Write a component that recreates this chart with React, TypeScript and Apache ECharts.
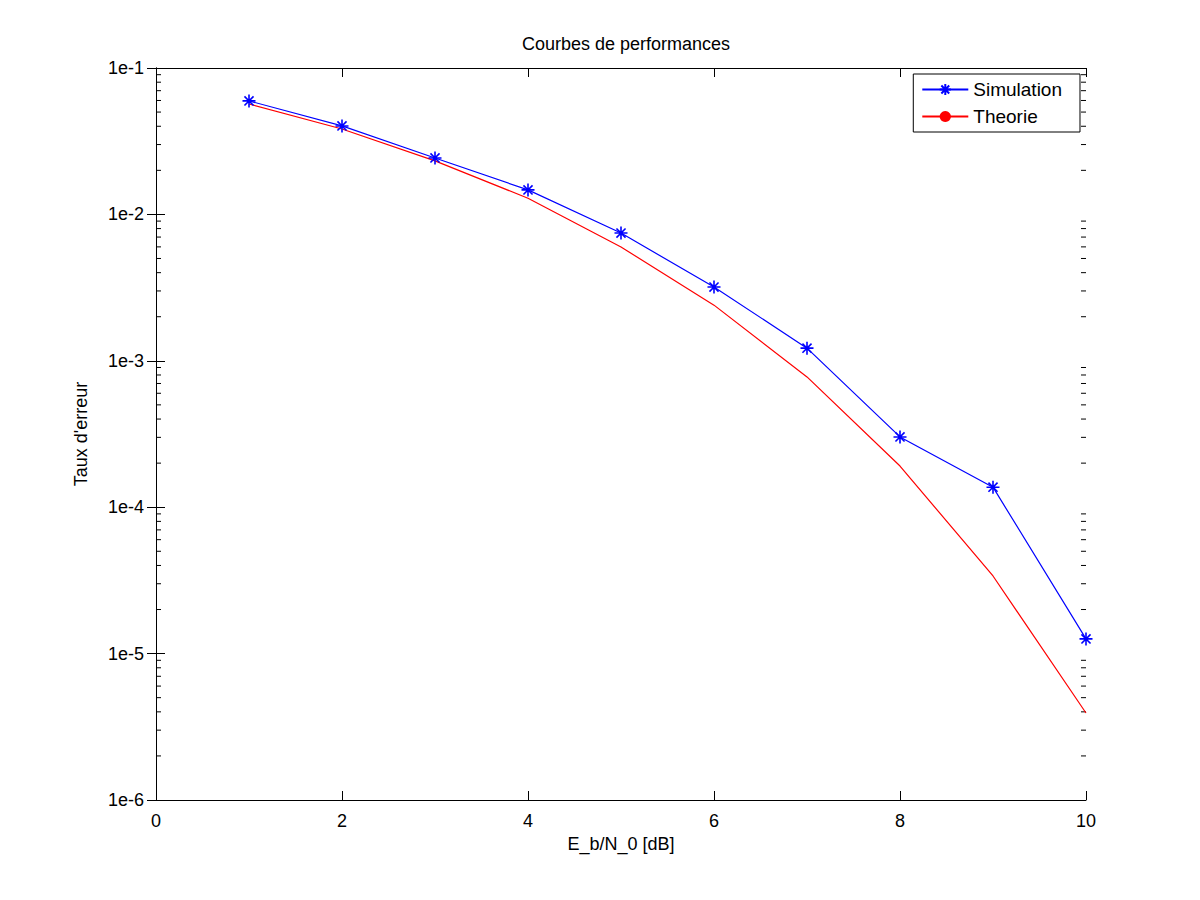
import { useEffect, useRef } from 'react'
import * as echarts from 'echarts'

const X_VALUES = [1, 2, 3, 4, 5, 6, 7, 8, 9, 10]
const SIMULATION = [0.0596, 0.0402, 0.0243, 0.0147, 0.00746, 0.00319, 0.00122, 0.000302, 0.000137, 1.26e-5]
const THEORIE = [0.0568, 0.0383, 0.0232, 0.0129, 0.00599, 0.0024, 0.000776, 0.000191, 3.39e-5, 3.93e-6]
const MINOR_TICKS: number[] = []
for (let e = -6; e < -1; e++) for (let m = 2; m <= 9; m++) MINOR_TICKS.push(m * Math.pow(10, e))

const FONT = 'Liberation Sans'
const STAR = 'path://M0,-10L0,10M-10,0L10,0M-7,-7L7,7M-7,7L7,-7'

export default function App() {
  const ref = useRef<HTMLDivElement>(null)

  useEffect(() => {
    const el = ref.current
    if (!el) return
    const chart = echarts.init(el, undefined, { renderer: 'svg' })
    const axisLine = { show: true, lineStyle: { color: '#000', width: 1 } }
    chart.setOption({
      animation: false,
      backgroundColor: '#fff',
      textStyle: { fontFamily: FONT },
      title: {
        text: 'Courbes de performances',
        left: 621,
        top: 30,
        textAlign: 'center',
        textStyle: { fontFamily: FONT, fontSize: 18, fontWeight: 'normal', color: '#000' },
      },
      legend: {
        right: 120,
        top: 74,
        orient: 'vertical',
        backgroundColor: '#fff',
        borderColor: '#000',
        borderWidth: 1,
        padding: [6, 18, 6, 8],
        itemGap: 8,
        itemWidth: 46,
        itemHeight: 14,
        textStyle: { fontFamily: FONT, fontSize: 19, color: '#000' },
        data: ['Simulation', 'Theorie'],
      },
      grid: { left: 156, right: 114, top: 68, bottom: 100 },
      xAxis: [
        {
          type: 'value',
          min: 0,
          max: 10,
          interval: 2,
          name: 'E_b/N_0 [dB]',
          nameLocation: 'middle',
          nameGap: 34,
          nameTextStyle: { fontFamily: FONT, fontSize: 18, color: '#000' },
          axisLine,
          axisTick: { inside: true, length: 9, lineStyle: { color: '#000' } },
          axisLabel: { fontFamily: FONT, fontSize: 18, color: '#000', margin: 12 },
          splitLine: { show: false },
        },
        {
          type: 'value',
          position: 'top',
          min: 0,
          max: 10,
          interval: 2,
          axisLine,
          axisTick: { inside: true, length: 9, lineStyle: { color: '#000' } },
          axisLabel: { show: false },
          splitLine: { show: false },
        },
      ],
      yAxis: [
        {
          type: 'log',
          logBase: 10,
          min: 1e-6,
          max: 1e-1,
          name: "Taux d'erreur",
          nameLocation: 'middle',
          nameGap: 66,
          nameTextStyle: { fontFamily: FONT, fontSize: 18, color: '#000' },
          axisLine,
          axisTick: { inside: true, length: 9, lineStyle: { color: '#000' } },
          axisLabel: {
            fontFamily: FONT,
            fontSize: 18,
            color: '#000',
            margin: 12,
            formatter: (v: number) => '1e' + Math.round(Math.log10(v)),
          },
          splitLine: { show: false },
        },
        {
          type: 'log',
          logBase: 10,
          position: 'right',
          min: 1e-6,
          max: 1e-1,
          axisLine,
          axisTick: { inside: true, length: 9, lineStyle: { color: '#000' } },
          axisLabel: { show: false },
          splitLine: { show: false },
        },
      ],
      series: [
        {
          name: 'minor',
          type: 'custom',
          silent: true,
          data: MINOR_TICKS.map((v) => [0, v]),
          renderItem: (_p: any, api: any) => {
            const y = api.coord([0, api.value(1)])[1]
            const xl = api.coord([0, 1e-3])[0]
            const xr = api.coord([10, 1e-3])[0]
            const style = { stroke: '#000', lineWidth: 1 }
            return {
              type: 'group',
              children: [
                { type: 'line', shape: { x1: xl, y1: y, x2: xl + 5, y2: y }, style },
                { type: 'line', shape: { x1: xr, y1: y, x2: xr - 5, y2: y }, style },
              ],
            }
          },
        },
        {
          name: 'Simulation',
          type: 'line',
          data: X_VALUES.map((x, i) => [x, SIMULATION[i]]),
          symbol: STAR,
          symbolSize: 13,
          showAllSymbol: true,
          lineStyle: { color: '#0000ff', width: 1.2 },
          itemStyle: { color: '#0000ff', borderColor: '#0000ff', borderWidth: 1.6 },
        },
        {
          name: 'Theorie',
          type: 'line',
          data: X_VALUES.map((x, i) => [x, THEORIE[i]]),
          symbol: 'none',
          lineStyle: { color: '#ff0000', width: 1.2 },
          itemStyle: { color: '#ff0000' },
        },
      ],
    })
    return () => chart.dispose()
  }, [])

  return <div ref={ref} style={{ position: 'fixed', left: 0, top: 0, width: 1200, height: 900 }} />
}
